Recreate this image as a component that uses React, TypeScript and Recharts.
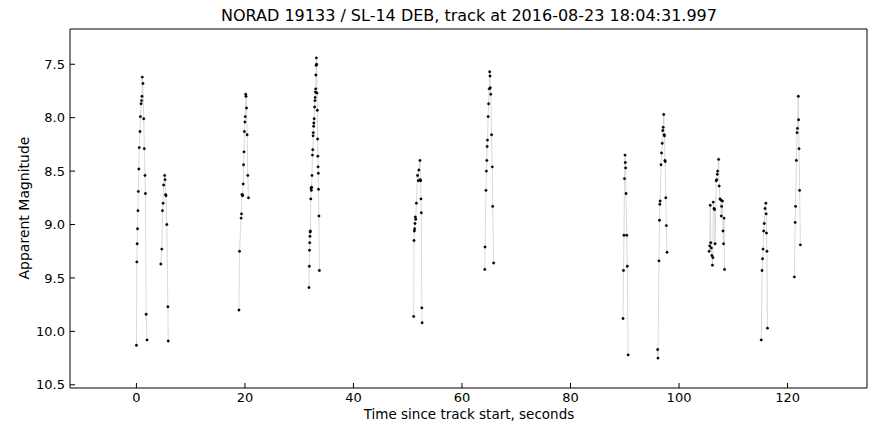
import { LineChart, Line, XAxis, YAxis } from "recharts";

const TITLE = "NORAD 19133 / SL-14 DEB, track at 2016-08-23 18:04:31.997";
const X_LABEL = "Time since track start, seconds";
const Y_LABEL = "Apparent Magnitude";

const xTicks = [0, 20, 40, 60, 80, 100, 120];
const yTicks = [7.5, 8.0, 8.5, 9.0, 9.5, 10.0, 10.5];
const xDomain = [-12.24, 134.64];
const yDomain = [7.17, 10.53];

// each pass is a list of [seconds, magnitude]
const pass1a = [
  [0.0, 10.13], [0.08, 9.35], [0.14, 9.18], [0.2, 9.04], [0.28, 8.87], [0.35, 8.69],
  [0.45, 8.48], [0.52, 8.28], [0.65, 8.13], [0.74, 7.99], [0.86, 7.87], [0.95, 7.84],
  [1.02, 7.8], [1.08, 7.62], [1.2, 7.68], [1.35, 8.01], [1.45, 8.29], [1.58, 8.54],
  [1.66, 8.71], [1.8, 9.84], [1.96, 10.08],
];
const pass1b = [
  [4.5, 9.37], [4.68, 9.23], [4.8, 8.87], [4.92, 8.8], [5.02, 8.63], [5.2, 8.54],
  [5.28, 8.58], [5.38, 8.72], [5.45, 8.73], [5.6, 9.0], [5.8, 9.77], [5.86, 10.09],
];
const pass2 = [
  [18.9, 9.8], [19.0, 9.25], [19.3, 8.94], [19.36, 8.9], [19.45, 8.72], [19.5, 8.72],
  [19.58, 8.73], [19.68, 8.62], [19.74, 8.44], [19.83, 8.32], [19.9, 8.13], [20.0, 8.04],
  [20.06, 7.99], [20.14, 7.78], [20.2, 7.8], [20.3, 7.91], [20.4, 8.16], [20.52, 8.54],
  [20.65, 8.75],
];
const pass3 = [
  [31.8, 9.59], [31.86, 9.39], [31.9, 9.24], [31.94, 9.17], [31.98, 9.11], [32.02, 9.07],
  [32.06, 9.06], [32.14, 8.76], [32.2, 8.66], [32.24, 8.68], [32.28, 8.65], [32.36, 8.54],
  [32.44, 8.35], [32.5, 8.3], [32.56, 8.17], [32.6, 8.14], [32.66, 8.08], [32.7, 8.05],
  [32.76, 8.01], [32.84, 7.9], [32.9, 7.84], [32.94, 7.81], [33.0, 7.76], [33.04, 7.73],
  [33.08, 7.6], [33.12, 7.51], [33.16, 7.44], [33.22, 7.5], [33.28, 7.77], [33.34, 7.93],
  [33.4, 8.2], [33.44, 8.36], [33.48, 8.46], [33.52, 8.52], [33.56, 8.67], [33.64, 8.92],
  [33.72, 9.43],
];
const pass4 = [
  [51.1, 9.86], [51.16, 9.15], [51.22, 9.06], [51.28, 9.04], [51.34, 8.99], [51.4, 8.93],
  [51.48, 8.95], [51.6, 8.8], [51.8, 8.54], [51.95, 8.59], [52.05, 8.49], [52.25, 8.4],
  [52.32, 8.58], [52.38, 8.59], [52.44, 8.76], [52.5, 8.89], [52.6, 9.78], [52.65, 9.92],
];
const pass5 = [
  [64.2, 9.42], [64.25, 9.21], [64.42, 8.68], [64.5, 8.5], [64.58, 8.4], [64.64, 8.27],
  [64.7, 8.21], [64.82, 7.99], [64.9, 7.87], [65.02, 7.73], [65.1, 7.57], [65.16, 7.61],
  [65.22, 7.72], [65.3, 7.78], [65.45, 8.16], [65.58, 8.46], [65.66, 8.83], [65.84, 9.36],
];
const pass6a = [
  [89.68, 9.88], [89.76, 9.43], [89.85, 9.1], [89.95, 8.57], [90.05, 8.35], [90.1, 8.42],
  [90.16, 8.47], [90.24, 8.71], [90.36, 9.1], [90.46, 9.39], [90.62, 10.22],
];
const pass6b = [
  [96.06, 10.17], [96.12, 10.25], [96.3, 9.34], [96.4, 8.96], [96.46, 8.81], [96.52, 8.78],
  [96.68, 8.44], [96.78, 8.33], [96.9, 8.24], [97.0, 8.12], [97.08, 8.09], [97.18, 7.97],
  [97.26, 8.16], [97.32, 8.17], [97.4, 8.4], [97.46, 8.41], [97.56, 8.75], [97.66, 9.01],
  [97.78, 9.26],
];
const pass7 = [
  [105.55, 9.25], [105.65, 9.2], [105.75, 8.82], [105.85, 9.17], [105.95, 9.22],
  [106.05, 9.29], [106.15, 9.38], [106.25, 9.31], [106.3, 8.79], [106.45, 8.85],
  [106.55, 8.86], [106.65, 9.18], [106.85, 8.59], [106.95, 8.58], [107.05, 8.53],
  [107.12, 8.5], [107.3, 8.39], [107.4, 8.64], [107.55, 8.76], [107.7, 8.77],
  [107.78, 8.92], [107.85, 8.83], [108.0, 8.78], [108.1, 9.06], [108.2, 9.18],
  [108.3, 8.94], [108.38, 9.42],
];
const pass8a = [
  [115.15, 10.08], [115.3, 9.43], [115.4, 9.32], [115.48, 9.23], [115.6, 9.06], [115.7, 8.99],
  [115.85, 8.85], [116.0, 8.8], [116.06, 8.9], [116.12, 9.08], [116.2, 9.25], [116.3, 9.97],
];
const pass8b = [
  [121.25, 9.49], [121.4, 8.98], [121.48, 8.83], [121.62, 8.4], [121.75, 8.14], [121.82, 8.1],
  [121.98, 7.8], [122.04, 8.02], [122.12, 8.29], [122.22, 8.68], [122.36, 9.19],
];

const passes = [pass1a, pass1b, pass2, pass3, pass4, pass5, pass6a, pass6b, pass7, pass8a, pass8b];

// null row after every pass so the passes are not joined
const data = passes.flatMap((p) => [
  ...p.map(([t, m]) => ({ t, m })),
  { t: p[p.length - 1][0], m: null },
]);

const font = "'DejaVu Sans', sans-serif";

export default function App() {
  return (
    <div style={{ position: "fixed", left: 0, top: 0, width: 875, height: 425, fontFamily: font, background: "#fff", overflow: "hidden" }}>
      <LineChart width={875} height={425} data={data} margin={{ top: 28, right: 7, bottom: 0, left: 0 }}>
        <XAxis
          dataKey="t"
          type="number"
          domain={xDomain}
          ticks={xTicks}
          allowDataOverflow
          height={37}
          tickSize={-5}
          tickMargin={10}
          stroke="#000"
          tick={{ fill: "#000", fontSize: 13 }}
        />
        <XAxis
          xAxisId="top"
          orientation="top"
          type="number"
          domain={xDomain}
          ticks={xTicks}
          allowDataOverflow
          height={1}
          tickSize={-5}
          tick={false}
          stroke="#000"
        />
        <YAxis
          type="number"
          domain={yDomain}
          reversed
          ticks={yTicks}
          allowDataOverflow
          width={70}
          tickSize={-5}
          tickMargin={10}
          tickFormatter={(v) => v.toFixed(1)}
          stroke="#000"
          tick={{ fill: "#000", fontSize: 13 }}
        />
        <YAxis
          yAxisId="right"
          orientation="right"
          type="number"
          domain={yDomain}
          reversed
          ticks={yTicks}
          allowDataOverflow
          width={1}
          tickSize={-5}
          tick={false}
          stroke="#000"
        />
        <Line
          dataKey="m"
          stroke="#cfcfcf"
          strokeWidth={0.8}
          dot={{ r: 1.2, fill: "#000", stroke: "#000", strokeWidth: 0.4 }}
          connectNulls={false}
          isAnimationActive={false}
        />
      </LineChart>
      <div style={{ position: "absolute", left: 469, top: 7, transform: "translateX(-50%)", fontSize: 16, lineHeight: "18px", whiteSpace: "nowrap" }}>
        {TITLE}
      </div>
      <div style={{ position: "absolute", left: 469, top: 407, transform: "translateX(-50%)", fontSize: 13.5, lineHeight: "15px", whiteSpace: "nowrap" }}>
        {X_LABEL}
      </div>
      <div style={{ position: "absolute", left: 24, top: 208, transform: "translate(-50%, -50%) rotate(-90deg)", fontSize: 14, lineHeight: "16px", whiteSpace: "nowrap" }}>
        {Y_LABEL}
      </div>
    </div>
  );
}
